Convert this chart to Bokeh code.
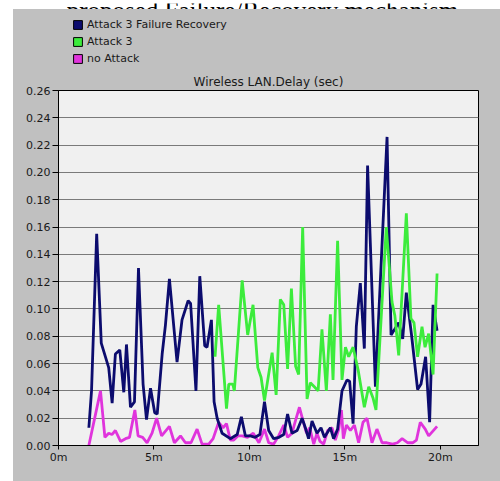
from bokeh.plotting import figure
from bokeh.models import FixedTicker, PrintfTickFormatter, Range1d, Legend, LegendItem, Label, Spacer
from bokeh.layouts import column, row
from bokeh.embed import file_html
from bokeh.resources import INLINE

# ---- data (time in minutes, delay in seconds) ----
navy_t = [1.59, 1.73, 2.00, 2.24, 2.63, 2.81, 2.98, 3.21, 3.42, 3.56,
          3.77, 3.98, 4.19, 4.43, 4.61, 4.82, 5.04, 5.17, 5.43, 5.60,
          5.81, 6.21, 6.47, 6.79, 6.92, 7.20, 7.40, 7.66, 7.78, 8.01,
          8.15, 8.31, 8.57, 9.00, 9.36, 9.58, 9.79, 10.05, 10.30, 10.55,
          10.79, 11.01, 11.27, 11.55, 11.80, 12.00, 12.23, 12.50, 12.76, 12.93,
          13.10, 13.28, 13.54, 13.75, 13.93, 14.24, 14.41, 14.62, 14.76, 14.85,
          15.11, 15.25, 15.43, 15.60, 15.81, 16.02, 16.19, 16.60, 17.21, 17.42,
          17.60, 17.82, 18.03, 18.22, 18.50, 18.81, 18.99, 19.23, 19.44, 19.62,
          19.83]
navy_v = [0.013, 0.040, 0.155, 0.075, 0.057, 0.031, 0.067, 0.070, 0.039, 0.074,
          0.028, 0.032, 0.130, 0.045, 0.019, 0.042, 0.024, 0.023, 0.067, 0.088,
          0.122, 0.061, 0.092, 0.106, 0.104, 0.040, 0.124, 0.073, 0.072, 0.092,
          0.032, 0.020, 0.009, 0.005, 0.008, 0.021, 0.007, 0.007, 0.006, 0.008,
          0.032, 0.011, 0.005, 0.006, 0.008, 0.023, 0.009, 0.011, 0.020, 0.013,
          0.005, 0.018, 0.009, 0.013, 0.006, 0.013, 0.005, 0.012, 0.029, 0.040,
          0.048, 0.047, 0.016, 0.087, 0.119, 0.071, 0.205, 0.043, 0.226, 0.081,
          0.085, 0.090, 0.078, 0.112, 0.080, 0.041, 0.045, 0.065, 0.017, 0.103,
          0.084]

green_t = [8.20, 8.39, 8.80, 8.92, 9.13, 9.21, 9.62, 9.91, 10.19, 10.44,
           10.61, 10.79, 11.19, 11.40, 11.62, 11.80, 12.00, 12.20, 12.42, 12.58,
           12.79, 13.02, 13.19, 13.40, 13.60, 13.80, 14.03, 14.24, 14.38, 14.62,
           14.85, 15.03, 15.20, 15.43, 15.70, 16.02, 16.25, 16.47, 16.63, 17.17,
           17.47, 17.62, 17.82, 18.22, 18.46, 18.62, 18.81, 19.04, 19.20, 19.39,
           19.62, 19.83]
green_v = [0.065, 0.103, 0.027, 0.045, 0.045, 0.040, 0.121, 0.081, 0.103, 0.057,
           0.050, 0.033, 0.068, 0.037, 0.107, 0.103, 0.056, 0.115, 0.058, 0.052,
           0.160, 0.034, 0.046, 0.043, 0.040, 0.085, 0.040, 0.096, 0.048, 0.150,
           0.048, 0.072, 0.065, 0.072, 0.055, 0.028, 0.043, 0.035, 0.026, 0.160,
           0.105, 0.095, 0.066, 0.170, 0.093, 0.090, 0.065, 0.087, 0.072, 0.082,
           0.052, 0.126]

mag_t = [1.59, 2.20, 2.43, 2.63, 2.80, 2.98, 3.25, 3.51, 3.72, 4.00,
         4.17, 4.41, 4.64, 4.90, 5.14, 5.40, 5.81, 6.07, 6.39, 6.65,
         6.94, 7.26, 7.52, 7.87, 8.10, 8.39, 8.62, 8.80, 9.00, 9.18,
         9.39, 9.62, 9.90, 10.20, 10.50, 10.79, 11.01, 11.27, 11.53, 11.80,
         12.00, 12.23, 12.41, 12.62, 12.81, 12.99, 13.16, 13.37, 13.54, 13.70,
         13.89, 14.10, 14.33, 14.50, 14.68, 14.82, 14.92, 15.08, 15.29, 15.50,
         15.72, 15.95, 16.16, 16.42, 16.68, 16.95, 17.20, 17.50, 17.75, 18.00,
         18.30, 18.55, 18.75, 18.95, 19.21, 19.39, 19.83]
mag_v = [0.000, 0.040, 0.006, 0.009, 0.008, 0.011, 0.003, 0.005, 0.006, 0.026,
         0.007, 0.006, 0.002, 0.009, 0.020, 0.007, 0.014, 0.002, 0.007, 0.002,
         0.002, 0.012, 0.001, 0.001, 0.005, 0.017, 0.013, 0.016, 0.004, 0.004,
         0.007, 0.007, 0.006, 0.009, 0.002, 0.012, 0.002, 0.001, 0.007, 0.015,
         0.006, 0.009, 0.018, 0.028, 0.018, 0.009, 0.013, 0.001, 0.009, 0.003,
         0.001, 0.011, 0.013, 0.004, 0.012, 0.026, 0.005, 0.015, 0.011, 0.015,
         0.002, 0.017, 0.020, 0.002, 0.012, 0.002, 0.002, 0.001, 0.002, 0.005,
         0.002, 0.002, 0.004, 0.017, 0.012, 0.007, 0.014]

series_labels = ["Attack 3 Failure Recovery", "Attack 3", "no Attack"]
series_colors = ["#0c0c6e", "#3cec3c", "#e034dc"]
series_t = [navy_t, green_t, mag_t]
series_v = [navy_v, green_v, mag_v]

x_ticks = [0, 5, 10, 15, 20]
x_tick_labels = ["0m", "5m", "10m", "15m", "20m"]
y_ticks = [0.00, 0.02, 0.04, 0.06, 0.08, 0.10, 0.12, 0.14, 0.16, 0.18, 0.20, 0.22, 0.24, 0.26]

chart_title = "Wireless LAN.Delay (sec)"
page_title = "proposed Failure/Recovery mechanism"

FONT = "DejaVu Sans"
PANEL = "#c0c0c0"


def blank(width, height, fill):
    f = figure(width=width, height=height, output_backend="svg", toolbar_location=None,
               x_range=Range1d(-1, 0), y_range=Range1d(-1, 0),
               x_axis_type=None, y_axis_type=None, min_border=0)
    f.outline_line_color = None
    f.border_fill_color = fill
    f.background_fill_color = None
    f.xgrid.visible = False
    f.ygrid.visible = False
    return f


# ---- strip with the (cut-off) page caption ----
cap = blank(500, 9, "white")
cap.background_fill_color = "white"
cap.add_layout(Label(x=262, y=2, x_units="screen", y_units="screen", text=page_title,
                     text_font="Liberation Serif", text_font_size="25px", text_align="center",
                     text_baseline="alphabetic", text_color="black"))

# ---- legend strip (transparent; swatch glyphs sit outside its visible range) ----
leg = blank(487, 57, None)
swatches = [leg.quad(left=t[:1], right=t[:1], top=v[:1], bottom=v[:1],
                     fill_color=c, line_color="black", line_width=1)
            for t, v, c in zip(series_t, series_v, series_colors)]
legend = Legend(items=[LegendItem(label=lab, renderers=[r]) for lab, r in zip(series_labels, swatches)],
                location=(14, 1), orientation="vertical")
legend.padding = 0
legend.margin = 0
legend.spacing = 4
legend.glyph_width = 11
legend.glyph_height = 11
legend.label_height = 13
legend.label_standoff = 4
legend.label_text_font = FONT
legend.label_text_font_size = "11px"
legend.label_text_color = "#1a1a1a"
legend.border_line_alpha = 0
legend.background_fill_alpha = 0
leg.add_layout(legend)

# ---- main chart ----
p = figure(width=487, height=415, output_backend="svg", toolbar_location=None,
           x_range=Range1d(0, 22), y_range=Range1d(0, 0.26),
           min_border_left=45, min_border_right=22, min_border_top=24, min_border_bottom=36)
p.border_fill_color = PANEL
p.background_fill_color = "#f0f0f0"
p.outline_line_color = "black"
p.outline_line_width = 1

p.title.text = chart_title
p.title.align = "center"
p.title.text_font = FONT
p.title.text_font_size = "12px"
p.title.text_font_style = "normal"
p.title.text_color = "#1a1a1a"
p.title.standoff = 3

p.xgrid.visible = False
p.ygrid.grid_line_color = "#7a7a7a"
p.ygrid.grid_line_width = 1

p.yaxis.ticker = FixedTicker(ticks=y_ticks)
p.yaxis.formatter = PrintfTickFormatter(format="%.2f")
p.xaxis.ticker = FixedTicker(ticks=x_ticks)
p.xaxis.major_label_overrides = {t: l for t, l in zip(x_ticks, x_tick_labels)}
for ax in (p.xaxis, p.yaxis):
    ax.axis_line_color = "black"
    ax.major_tick_line_color = "black"
    ax.major_tick_out = 6
    ax.major_tick_in = 0
    ax.minor_tick_line_color = None
    ax.major_label_text_font = FONT
    ax.major_label_text_font_size = "11px"
    ax.major_label_text_color = "#1a1a1a"
p.yaxis.major_label_standoff = 2
p.xaxis.major_tick_out = 4
p.xaxis.major_label_standoff = 1

p.line(mag_t, mag_v, line_color=series_colors[2], line_width=2.8)
p.line(navy_t, navy_v, line_color=series_colors[0], line_width=2.8)
p.line(green_t, green_v, line_color=series_colors[1], line_width=2.8)

panel_col = column(leg, p, styles={"background-color": PANEL})
layout = column(cap, row(Spacer(width=13, height=472), panel_col))

open("out.html", "w").write(file_html(layout, INLINE))
